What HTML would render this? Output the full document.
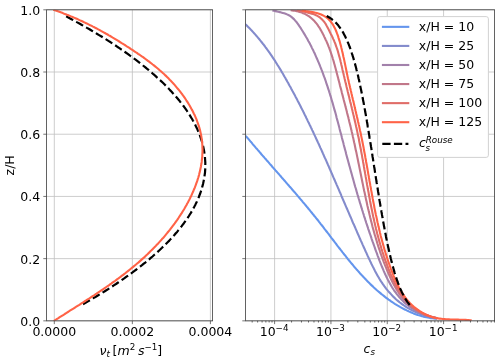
<!DOCTYPE html>
<html><head><meta charset="utf-8"><title>Profiles</title>
<style>html,body{margin:0;padding:0;background:#fff;overflow:hidden}svg{display:block}</style></head>
<body>
<svg width="500" height="362" viewBox="0 0 500 362" font-family="DejaVu Sans, Liberation Sans, sans-serif" font-size="12.5" fill="#000">
<rect width="500" height="362" fill="#fff"/>
<defs><clipPath id="cl"><rect x="46.6" y="9.8" width="166.0" height="311.05"/></clipPath><clipPath id="cr"><rect x="245.6" y="9.8" width="249.00000000000003" height="311.05"/></clipPath></defs>
<path d="M54.30 9.8 V320.85 M132.35 9.8 V320.85 M210.40 9.8 V320.85 M46.6 320.85 H212.6 M245.6 320.85 H494.6 M46.6 258.64 H212.6 M245.6 258.64 H494.6 M46.6 196.43 H212.6 M245.6 196.43 H494.6 M46.6 134.22 H212.6 M245.6 134.22 H494.6 M46.6 72.01 H212.6 M245.6 72.01 H494.6 M46.6 9.80 H212.6 M245.6 9.80 H494.6 M274.60 9.8 V320.85 M330.93 9.8 V320.85 M387.26 9.8 V320.85 M443.59 9.8 V320.85" stroke="#c0c0c0" stroke-width="0.8" fill="none"/>
<g clip-path="url(#cl)" fill="none" stroke-linejoin="round">
<path d="M83.0 304.2 L85.5 302.8 L88.0 301.3 L90.5 299.9 L92.9 298.4 L95.4 297.0 L97.8 295.5 L100.1 294.1 L102.5 292.6 L104.8 291.2 L107.1 289.8 L109.3 288.3 L111.6 286.9 L113.8 285.4 L116.0 284.0 L118.1 282.5 L120.3 281.1 L122.4 279.6 L124.5 278.2 L126.5 276.7 L128.5 275.3 L130.5 273.8 L132.5 272.4 L134.5 270.9 L136.4 269.5 L138.3 268.0 L140.1 266.6 L142.0 265.2 L143.8 263.7 L145.6 262.3 L147.3 260.8 L149.1 259.4 L150.8 257.9 L152.5 256.5 L154.1 255.0 L155.8 253.6 L157.4 252.1 L158.9 250.7 L160.5 249.2 L162.0 247.8 L163.5 246.3 L165.0 244.9 L166.4 243.5 L167.9 242.0 L169.3 240.6 L170.6 239.1 L172.0 237.7 L173.3 236.2 L174.6 234.8 L175.8 233.3 L177.1 231.9 L178.3 230.4 L179.4 229.0 L180.6 227.5 L181.7 226.1 L182.8 224.6 L183.9 223.2 L185.0 221.7 L186.0 220.3 L187.0 218.9 L188.0 217.4 L188.9 216.0 L189.8 214.5 L190.7 213.1 L191.6 211.6 L192.4 210.2 L193.2 208.7 L194.0 207.3 L194.8 205.8 L195.5 204.4 L196.2 202.9 L196.9 201.5 L197.5 200.0 L198.2 198.6 L198.8 197.2 L199.3 195.7 L199.9 194.3 L200.4 192.8 L200.9 191.4 L201.4 189.9 L201.8 188.5 L202.2 187.0 L202.6 185.6 L203.0 184.1 L203.3 182.7 L203.6 181.2 L203.9 179.8 L204.2 178.3 L204.4 176.9 L204.6 175.4 L204.8 174.0 L205.0 172.6 L205.1 171.1 L205.2 169.7 L205.3 168.2 L205.3 166.8 L205.3 165.3 L205.3 163.9 L205.3 162.4 L205.2 161.0 L205.1 159.5 L205.0 158.1 L204.9 156.6 L204.7 155.2 L204.5 153.7 L204.3 152.3 L204.1 150.9 L203.8 149.4 L203.5 148.0 L203.2 146.5 L202.8 145.1 L202.5 143.6 L202.1 142.2 L201.6 140.7 L201.2 139.3 L200.7 137.8 L200.2 136.4 L199.7 134.9 L199.1 133.5 L198.5 132.0 L197.9 130.6 L197.3 129.1 L196.6 127.7 L195.9 126.3 L195.2 124.8 L194.5 123.4 L193.7 121.9 L192.9 120.5 L192.1 119.0 L191.2 117.6 L190.3 116.1 L189.4 114.7 L188.5 113.2 L187.5 111.8 L186.6 110.3 L185.6 108.9 L184.5 107.4 L183.5 106.0 L182.4 104.6 L181.3 103.1 L180.1 101.7 L179.0 100.2 L177.8 98.8 L176.5 97.3 L175.3 95.9 L174.0 94.4 L172.7 93.0 L171.4 91.5 L170.0 90.1 L168.7 88.6 L167.3 87.2 L165.8 85.7 L164.4 84.3 L162.9 82.8 L161.4 81.4 L159.8 80.0 L158.3 78.5 L156.7 77.1 L155.1 75.6 L153.4 74.2 L151.8 72.7 L150.1 71.3 L148.4 69.8 L146.6 68.4 L144.8 66.9 L143.0 65.5 L141.2 64.0 L139.4 62.6 L137.5 61.1 L135.6 59.7 L133.6 58.3 L131.7 56.8 L129.7 55.4 L127.7 53.9 L125.7 52.5 L123.6 51.0 L121.5 49.6 L119.4 48.1 L117.2 46.7 L115.1 45.2 L112.9 43.8 L110.7 42.3 L108.4 40.9 L106.1 39.4 L103.8 38.0 L101.5 36.5 L99.1 35.1 L96.8 33.7 L94.4 32.2 L91.9 30.8 L89.5 29.3 L87.0 27.9 L84.5 26.4 L81.9 25.0 L79.4 23.5 L76.8 22.1 L74.2 20.6 L71.5 19.2 L68.8 17.7 L66.1 16.3" stroke="#000" stroke-width="2.2" stroke-dasharray="7.94 3.44" stroke-dashoffset="0"/>
<path d="M54.3 10.1 L55.7 10.6 L57.2 11.1 L58.6 11.6 L60.0 12.1 L61.4 12.6 L62.8 13.1 L64.2 13.7 L65.6 14.2 L67.0 14.8 L68.4 15.3 L69.8 15.9 L71.2 16.5 L72.6 17.0 L74.0 17.6 L75.4 18.2 L76.8 18.8 L78.1 19.4 L79.5 20.1 L80.9 20.7 L82.2 21.3 L83.6 22.0 L84.9 22.6 L86.3 23.3 L87.6 23.9 L89.0 24.6 L90.3 25.3 L91.7 25.9 L93.0 26.6 L94.4 27.3 L95.7 28.0 L97.0 28.7 L98.3 29.4 L99.7 30.1 L101.0 30.9 L102.3 31.6 L103.6 32.3 L104.9 33.0 L106.2 33.8 L107.6 34.5 L108.9 35.3 L110.2 36.0 L111.5 36.8 L112.8 37.6 L114.0 38.3 L115.3 39.1 L116.6 39.9 L117.9 40.7 L119.2 41.5 L120.5 42.3 L121.7 43.1 L123.0 43.9 L124.3 44.7 L125.6 45.5 L126.8 46.3 L128.1 47.1 L129.4 47.9 L130.6 48.8 L131.9 49.6 L133.1 50.4 L134.4 51.3 L135.6 52.1 L136.9 52.9 L138.1 53.8 L139.4 54.7 L140.6 55.5 L141.8 56.4 L143.1 57.2 L144.3 58.1 L145.5 59.0 L146.7 59.9 L147.9 60.8 L149.1 61.7 L150.3 62.6 L151.5 63.5 L152.7 64.5 L153.9 65.4 L155.1 66.4 L156.2 67.3 L157.4 68.3 L158.6 69.3 L159.7 70.3 L160.9 71.3 L162.0 72.3 L163.1 73.3 L164.3 74.3 L165.4 75.4 L166.5 76.4 L167.6 77.5 L168.7 78.6 L169.7 79.7 L170.8 80.8 L171.9 81.9 L172.9 83.1 L174.0 84.2 L175.0 85.4 L176.0 86.6 L177.0 87.8 L178.0 89.0 L179.0 90.2 L180.0 91.4 L180.9 92.6 L181.9 93.9 L182.8 95.2 L183.7 96.4 L184.6 97.7 L185.5 99.0 L186.3 100.3 L187.2 101.6 L188.0 102.9 L188.8 104.2 L189.6 105.5 L190.4 106.9 L191.1 108.2 L191.8 109.6 L192.6 110.9 L193.2 112.3 L193.9 113.7 L194.6 115.0 L195.2 116.4 L195.8 117.8 L196.4 119.2 L196.9 120.6 L197.4 122.0 L197.9 123.4 L198.4 124.8 L198.9 126.2 L199.3 127.6 L199.7 129.0 L200.1 130.4 L200.4 131.9 L200.7 133.3 L201.0 134.7 L201.3 136.1 L201.5 137.6 L201.7 139.0 L201.9 140.4 L202.1 141.8 L202.2 143.3 L202.3 144.7 L202.4 146.1 L202.4 147.6 L202.5 149.0 L202.5 150.4 L202.5 151.9 L202.4 153.3 L202.3 154.7 L202.3 156.2 L202.1 157.6 L202.0 159.0 L201.8 160.5 L201.7 161.9 L201.5 163.3 L201.2 164.7 L201.0 166.2 L200.7 167.6 L200.4 169.0 L200.1 170.5 L199.8 171.9 L199.4 173.3 L199.1 174.7 L198.7 176.1 L198.3 177.5 L197.8 179.0 L197.4 180.4 L196.9 181.8 L196.4 183.2 L195.9 184.6 L195.4 186.0 L194.9 187.4 L194.3 188.8 L193.7 190.1 L193.2 191.5 L192.5 192.9 L191.9 194.3 L191.3 195.7 L190.6 197.0 L190.0 198.4 L189.3 199.8 L188.6 201.1 L187.9 202.5 L187.1 203.8 L186.4 205.2 L185.6 206.5 L184.9 207.8 L184.1 209.2 L183.3 210.5 L182.5 211.8 L181.7 213.1 L180.8 214.4 L180.0 215.7 L179.1 217.0 L178.3 218.3 L177.4 219.6 L176.5 220.8 L175.6 222.1 L174.7 223.4 L173.8 224.6 L172.8 225.9 L171.9 227.1 L170.9 228.4 L170.0 229.6 L169.0 230.8 L168.0 232.0 L167.1 233.2 L166.1 234.4 L165.1 235.6 L164.1 236.8 L163.1 238.0 L162.0 239.1 L161.0 240.3 L160.0 241.4 L158.9 242.6 L157.9 243.7 L156.8 244.8 L155.8 245.9 L154.7 247.0 L153.7 248.1 L152.6 249.2 L151.5 250.3 L150.4 251.3 L149.4 252.4 L148.3 253.4 L147.2 254.5 L146.1 255.5 L145.0 256.6 L143.9 257.6 L142.7 258.6 L141.6 259.6 L140.5 260.6 L139.4 261.6 L138.3 262.6 L137.1 263.5 L136.0 264.5 L134.8 265.5 L133.7 266.4 L132.5 267.4 L131.4 268.3 L130.2 269.3 L129.1 270.2 L127.9 271.1 L126.7 272.0 L125.6 273.0 L124.4 273.9 L123.2 274.8 L122.0 275.7 L120.8 276.6 L119.6 277.5 L118.5 278.4 L117.3 279.2 L116.1 280.1 L114.9 281.0 L113.6 281.9 L112.4 282.7 L111.2 283.6 L110.0 284.4 L108.8 285.3 L107.6 286.1 L106.3 287.0 L105.1 287.8 L103.9 288.7 L102.7 289.5 L101.4 290.3 L100.2 291.2 L99.0 292.0 L97.7 292.8 L96.5 293.7 L95.2 294.5 L94.0 295.3 L92.7 296.1 L91.5 296.9 L90.2 297.8 L89.0 298.6 L87.7 299.4 L86.5 300.2 L85.2 301.0 L83.9 301.8 L82.7 302.6 L81.4 303.4 L80.1 304.3 L78.9 305.1 L77.6 305.9 L76.3 306.7 L75.1 307.5 L73.8 308.3 L72.5 309.1 L71.2 309.9 L69.9 310.7 L68.7 311.5 L67.4 312.3 L66.1 313.2 L64.8 314.0 L63.6 314.8 L62.3 315.6 L61.0 316.4 L59.7 317.2 L58.4 318.1 L57.1 318.9 L55.9 319.7 L54.6 320.5" stroke="#ff6347" stroke-width="2.1" stroke-linecap="square"/>
</g>
<g clip-path="url(#cr)" fill="none" stroke-linejoin="round">
<path d="M245.8 135.9 L246.8 137.1 L247.8 138.3 L248.8 139.4 L249.8 140.6 L250.8 141.8 L251.8 142.9 L252.7 144.1 L253.7 145.3 L254.7 146.4 L255.7 147.6 L256.7 148.7 L257.7 149.9 L258.7 151.0 L259.7 152.2 L260.7 153.3 L261.6 154.5 L262.6 155.6 L263.6 156.7 L264.6 157.9 L265.6 159.0 L266.6 160.2 L267.6 161.3 L268.6 162.4 L269.6 163.6 L270.6 164.7 L271.6 165.8 L272.5 167.0 L273.5 168.1 L274.5 169.2 L275.5 170.4 L276.5 171.5 L277.5 172.6 L278.5 173.7 L279.5 174.9 L280.5 176.0 L281.4 177.1 L282.4 178.3 L283.4 179.4 L284.4 180.5 L285.4 181.6 L286.4 182.8 L287.3 183.9 L288.3 185.0 L289.3 186.2 L290.3 187.3 L291.3 188.4 L292.2 189.5 L293.2 190.7 L294.2 191.8 L295.2 192.9 L296.2 194.1 L297.1 195.2 L298.1 196.4 L299.1 197.5 L300.0 198.6 L301.0 199.8 L302.0 200.9 L302.9 202.1 L303.9 203.2 L304.9 204.4 L305.8 205.5 L306.8 206.7 L307.8 207.8 L308.7 209.0 L309.7 210.2 L310.6 211.3 L311.6 212.5 L312.5 213.7 L313.5 214.8 L314.4 216.0 L315.4 217.2 L316.3 218.3 L317.3 219.5 L318.2 220.7 L319.1 221.9 L320.1 223.1 L321.0 224.3 L322.0 225.5 L322.9 226.7 L323.8 227.9 L324.7 229.1 L325.7 230.3 L326.6 231.5 L327.5 232.7 L328.5 233.9 L329.4 235.1 L330.3 236.4 L331.2 237.6 L332.2 238.8 L333.1 240.0 L334.0 241.2 L334.9 242.4 L335.9 243.6 L336.8 244.9 L337.7 246.1 L338.7 247.3 L339.6 248.5 L340.5 249.7 L341.5 250.9 L342.4 252.1 L343.4 253.3 L344.3 254.5 L345.3 255.7 L346.2 256.9 L347.2 258.1 L348.1 259.3 L349.1 260.5 L350.0 261.6 L351.0 262.8 L352.0 264.0 L353.0 265.2 L353.9 266.3 L354.9 267.5 L355.9 268.6 L356.9 269.8 L357.9 270.9 L358.9 272.0 L359.9 273.2 L360.9 274.3 L362.0 275.4 L363.0 276.5 L364.0 277.6 L365.1 278.7 L366.1 279.8 L367.2 280.9 L368.2 281.9 L369.3 283.0 L370.3 284.1 L371.4 285.1 L372.5 286.1 L373.6 287.2 L374.7 288.2 L375.8 289.2 L376.9 290.2 L378.1 291.2 L379.2 292.1 L380.4 293.1 L381.5 294.1 L382.7 295.0 L383.8 295.9 L385.0 296.9 L386.2 297.8 L387.4 298.7 L388.6 299.6 L389.9 300.4 L391.1 301.3 L392.3 302.1 L393.6 303.0 L394.8 303.8 L396.1 304.6 L397.4 305.4 L398.7 306.1 L400.0 306.9 L401.3 307.6 L402.6 308.3 L403.9 309.0 L405.3 309.7 L406.6 310.4 L408.0 311.0 L409.3 311.6 L410.7 312.2 L412.1 312.8 L413.5 313.4 L414.9 313.9 L416.3 314.4 L417.7 314.9 L419.1 315.3 L420.5 315.8 L422.0 316.2 L423.4 316.6 L424.9 316.9 L426.4 317.2 L427.8 317.5 L429.3 317.8 L430.8 318.1 L432.3 318.3 L433.8 318.5 L435.3 318.7 L436.8 318.8" stroke="#6495ed" stroke-width="2.1"/>
<path d="M239.0 18.5 L240.1 19.5 L241.3 20.5 L242.4 21.5 L243.5 22.5 L244.6 23.5 L245.7 24.6 L246.8 25.6 L247.9 26.7 L249.0 27.8 L250.0 28.8 L251.1 29.9 L252.1 31.0 L253.1 32.1 L254.1 33.2 L255.2 34.4 L256.1 35.5 L257.1 36.6 L258.1 37.8 L259.1 39.0 L260.0 40.1 L261.0 41.3 L261.9 42.5 L262.8 43.7 L263.8 44.8 L264.7 46.0 L265.6 47.3 L266.5 48.5 L267.3 49.7 L268.2 50.9 L269.1 52.1 L270.0 53.4 L270.8 54.6 L271.7 55.9 L272.5 57.1 L273.3 58.4 L274.2 59.7 L275.0 60.9 L275.8 62.2 L276.6 63.5 L277.4 64.8 L278.2 66.0 L279.0 67.3 L279.8 68.6 L280.6 69.9 L281.4 71.2 L282.1 72.5 L282.9 73.8 L283.7 75.2 L284.4 76.5 L285.2 77.8 L285.9 79.1 L286.7 80.4 L287.4 81.7 L288.2 83.1 L288.9 84.4 L289.6 85.7 L290.4 87.0 L291.1 88.4 L291.8 89.7 L292.5 91.0 L293.3 92.4 L294.0 93.7 L294.7 95.0 L295.4 96.4 L296.1 97.7 L296.8 99.0 L297.5 100.4 L298.2 101.7 L298.9 103.1 L299.6 104.4 L300.3 105.8 L300.9 107.1 L301.6 108.4 L302.3 109.8 L303.0 111.1 L303.7 112.5 L304.3 113.8 L305.0 115.2 L305.7 116.5 L306.3 117.9 L307.0 119.2 L307.6 120.6 L308.3 122.0 L309.0 123.3 L309.6 124.7 L310.3 126.0 L310.9 127.4 L311.6 128.8 L312.2 130.1 L312.9 131.5 L313.5 132.8 L314.1 134.2 L314.8 135.6 L315.4 136.9 L316.0 138.3 L316.7 139.7 L317.3 141.0 L317.9 142.4 L318.6 143.8 L319.2 145.1 L319.8 146.5 L320.4 147.9 L321.1 149.3 L321.7 150.6 L322.3 152.0 L322.9 153.4 L323.5 154.7 L324.1 156.1 L324.7 157.5 L325.4 158.9 L326.0 160.2 L326.6 161.6 L327.2 163.0 L327.8 164.4 L328.4 165.7 L329.0 167.1 L329.6 168.5 L330.2 169.9 L330.8 171.3 L331.4 172.6 L332.0 174.0 L332.6 175.4 L333.2 176.8 L333.8 178.2 L334.4 179.5 L335.0 180.9 L335.6 182.3 L336.2 183.7 L336.8 185.1 L337.4 186.4 L338.0 187.8 L338.6 189.2 L339.2 190.6 L339.8 192.0 L340.4 193.3 L341.0 194.7 L341.5 196.1 L342.1 197.5 L342.7 198.9 L343.3 200.3 L343.9 201.6 L344.5 203.0 L345.1 204.4 L345.7 205.8 L346.3 207.2 L346.9 208.5 L347.5 209.9 L348.1 211.3 L348.7 212.7 L349.3 214.1 L349.9 215.5 L350.5 216.8 L351.1 218.2 L351.7 219.6 L352.2 221.0 L352.8 222.4 L353.4 223.8 L354.1 225.1 L354.7 226.5 L355.3 227.9 L355.9 229.3 L356.5 230.7 L357.1 232.1 L357.7 233.5 L358.3 234.8 L358.9 236.2 L359.5 237.6 L360.1 239.0 L360.7 240.4 L361.4 241.8 L362.0 243.2 L362.6 244.6 L363.2 245.9 L363.8 247.3 L364.5 248.7 L365.1 250.1 L365.7 251.5 L366.4 252.9 L367.0 254.3 L367.6 255.7 L368.3 257.1 L368.9 258.5 L369.6 259.9 L370.2 261.2 L370.9 262.6 L371.5 264.0 L372.2 265.4 L372.9 266.8 L373.6 268.1 L374.3 269.5 L375.0 270.9 L375.7 272.2 L376.4 273.5 L377.1 274.9 L377.9 276.2 L378.7 277.5 L379.4 278.8 L380.2 280.1 L381.0 281.4 L381.9 282.6 L382.7 283.9 L383.6 285.1 L384.5 286.4 L385.4 287.6 L386.3 288.8 L387.2 289.9 L388.2 291.1 L389.2 292.2 L390.2 293.3 L391.2 294.4 L392.2 295.5 L393.2 296.6 L394.3 297.6 L395.4 298.7 L396.5 299.7 L397.6 300.6 L398.8 301.6 L399.9 302.5 L401.1 303.4 L402.3 304.3 L403.5 305.2 L404.7 306.0 L406.0 306.8 L407.2 307.6 L408.5 308.4 L409.8 309.1 L411.1 309.8 L412.4 310.5 L413.8 311.1 L415.1 311.8 L416.5 312.4 L417.9 312.9 L419.3 313.5 L420.7 314.0 L422.1 314.5 L423.5 314.9 L425.0 315.4 L426.4 315.8 L427.9 316.2 L429.4 316.6 L430.9 316.9 L432.4 317.2 L433.9 317.6 L435.4 317.8 L436.9 318.1" stroke="#838bcc" stroke-width="2.1"/>
<path d="M272.4 10.4 L273.8 10.8 L275.3 11.1 L276.8 11.4 L278.3 11.8 L279.8 12.1 L281.2 12.5 L282.7 12.9 L284.2 13.3 L285.6 13.8 L287.0 14.4 L288.4 15.0 L289.6 15.7 L290.9 16.5 L292.0 17.4 L293.1 18.4 L294.2 19.4 L295.2 20.6 L296.2 21.7 L297.1 22.9 L298.0 24.1 L298.9 25.4 L299.7 26.7 L300.6 27.9 L301.4 29.2 L302.2 30.5 L303.0 31.8 L303.8 33.1 L304.6 34.4 L305.4 35.7 L306.1 37.0 L306.9 38.3 L307.6 39.6 L308.3 40.9 L309.1 42.3 L309.8 43.6 L310.5 44.9 L311.2 46.3 L311.8 47.6 L312.5 49.0 L313.2 50.3 L313.8 51.7 L314.5 53.0 L315.1 54.4 L315.7 55.8 L316.3 57.2 L316.9 58.5 L317.5 59.9 L318.1 61.3 L318.7 62.7 L319.3 64.1 L319.9 65.5 L320.4 66.9 L321.0 68.3 L321.5 69.7 L322.1 71.1 L322.6 72.5 L323.1 73.9 L323.6 75.3 L324.1 76.7 L324.7 78.1 L325.2 79.6 L325.7 81.0 L326.1 82.4 L326.6 83.8 L327.1 85.3 L327.6 86.7 L328.0 88.2 L328.5 89.6 L329.0 91.0 L329.4 92.5 L329.9 93.9 L330.3 95.4 L330.8 96.8 L331.2 98.3 L331.6 99.7 L332.0 101.2 L332.5 102.6 L332.9 104.1 L333.3 105.5 L333.7 107.0 L334.1 108.4 L334.5 109.9 L335.0 111.4 L335.4 112.8 L335.8 114.3 L336.2 115.7 L336.5 117.2 L336.9 118.7 L337.3 120.1 L337.7 121.6 L338.1 123.1 L338.5 124.5 L338.9 126.0 L339.3 127.5 L339.6 128.9 L340.0 130.4 L340.4 131.9 L340.8 133.3 L341.2 134.8 L341.6 136.2 L341.9 137.7 L342.3 139.2 L342.7 140.6 L343.1 142.1 L343.5 143.6 L343.8 145.0 L344.2 146.5 L344.6 147.9 L345.0 149.4 L345.4 150.8 L345.8 152.3 L346.1 153.8 L346.5 155.2 L346.9 156.7 L347.3 158.1 L347.7 159.6 L348.1 161.0 L348.5 162.5 L348.9 163.9 L349.3 165.4 L349.7 166.8 L350.1 168.3 L350.5 169.7 L350.9 171.2 L351.3 172.6 L351.7 174.1 L352.1 175.5 L352.5 177.0 L352.9 178.4 L353.3 179.8 L353.7 181.3 L354.1 182.7 L354.5 184.2 L354.9 185.6 L355.3 187.1 L355.8 188.5 L356.2 189.9 L356.6 191.4 L357.0 192.8 L357.4 194.3 L357.9 195.7 L358.3 197.1 L358.7 198.6 L359.2 200.0 L359.6 201.5 L360.0 202.9 L360.5 204.3 L360.9 205.8 L361.3 207.2 L361.8 208.6 L362.2 210.1 L362.7 211.5 L363.1 213.0 L363.6 214.4 L364.0 215.8 L364.5 217.3 L365.0 218.7 L365.4 220.1 L365.9 221.6 L366.3 223.0 L366.8 224.4 L367.3 225.9 L367.8 227.3 L368.2 228.8 L368.7 230.2 L369.2 231.6 L369.7 233.1 L370.2 234.5 L370.7 235.9 L371.2 237.4 L371.6 238.8 L372.1 240.2 L372.6 241.7 L373.2 243.1 L373.7 244.6 L374.2 246.0 L374.7 247.4 L375.2 248.9 L375.7 250.3 L376.2 251.7 L376.8 253.2 L377.3 254.6 L377.8 256.1 L378.4 257.5 L378.9 258.9 L379.4 260.4 L380.0 261.8 L380.6 263.3 L381.1 264.7 L381.7 266.1 L382.3 267.5 L382.9 268.9 L383.5 270.4 L384.1 271.8 L384.7 273.1 L385.3 274.5 L386.0 275.9 L386.6 277.3 L387.3 278.6 L388.0 280.0 L388.7 281.3 L389.4 282.6 L390.1 283.9 L390.9 285.2 L391.6 286.5 L392.4 287.8 L393.2 289.0 L394.0 290.3 L394.9 291.5 L395.8 292.7 L396.6 293.9 L397.6 295.0 L398.5 296.2 L399.4 297.3 L400.4 298.4 L401.4 299.5 L402.5 300.5 L403.5 301.6 L404.6 302.6 L405.7 303.6 L406.8 304.5 L408.0 305.5 L409.2 306.4 L410.4 307.3 L411.7 308.1 L413.0 308.9 L414.3 309.7 L415.6 310.5 L416.9 311.2 L418.3 312.0 L419.6 312.6 L421.0 313.3 L422.4 313.9 L423.9 314.5 L425.3 315.0 L426.7 315.5 L428.2 316.0 L429.6 316.5 L431.1 316.9 L432.6 317.3 L434.1 317.6 L435.5 317.9 L437.0 318.2" stroke="#a281ab" stroke-width="2.1"/>
<path d="M290.6 10.3 L292.1 10.4 L293.6 10.6 L295.1 10.8 L296.6 11.1 L298.1 11.5 L299.5 11.9 L301.0 12.3 L302.4 12.9 L303.8 13.4 L305.2 14.1 L306.5 14.8 L307.8 15.6 L309.1 16.4 L310.3 17.3 L311.4 18.2 L312.5 19.2 L313.6 20.3 L314.6 21.3 L315.6 22.5 L316.6 23.6 L317.5 24.8 L318.3 26.1 L319.2 27.3 L320.0 28.6 L320.7 29.9 L321.5 31.2 L322.2 32.6 L322.9 33.9 L323.6 35.3 L324.2 36.6 L324.9 38.0 L325.5 39.4 L326.2 40.7 L326.8 42.1 L327.4 43.5 L328.0 44.9 L328.5 46.3 L329.1 47.7 L329.6 49.1 L330.1 50.5 L330.6 51.9 L331.1 53.3 L331.6 54.8 L332.0 56.2 L332.5 57.6 L332.9 59.1 L333.4 60.5 L333.8 61.9 L334.2 63.4 L334.6 64.8 L335.0 66.3 L335.4 67.7 L335.8 69.2 L336.2 70.6 L336.5 72.1 L336.9 73.6 L337.3 75.0 L337.7 76.5 L338.1 77.9 L338.4 79.4 L338.8 80.8 L339.2 82.3 L339.6 83.8 L339.9 85.2 L340.3 86.7 L340.7 88.1 L341.1 89.6 L341.5 91.1 L341.8 92.5 L342.2 94.0 L342.6 95.4 L343.0 96.9 L343.4 98.4 L343.7 99.8 L344.1 101.3 L344.5 102.7 L344.9 104.2 L345.3 105.7 L345.6 107.1 L346.0 108.6 L346.4 110.0 L346.8 111.5 L347.1 113.0 L347.5 114.4 L347.9 115.9 L348.3 117.3 L348.6 118.8 L349.0 120.3 L349.3 121.7 L349.7 123.2 L350.1 124.7 L350.4 126.1 L350.8 127.6 L351.1 129.1 L351.5 130.5 L351.8 132.0 L352.2 133.5 L352.5 134.9 L352.8 136.4 L353.2 137.9 L353.5 139.4 L353.8 140.8 L354.1 142.3 L354.5 143.8 L354.8 145.2 L355.1 146.7 L355.4 148.2 L355.7 149.7 L356.0 151.1 L356.4 152.6 L356.7 154.1 L357.0 155.6 L357.3 157.1 L357.6 158.5 L357.9 160.0 L358.2 161.5 L358.5 163.0 L358.8 164.4 L359.1 165.9 L359.4 167.4 L359.7 168.9 L360.0 170.4 L360.3 171.8 L360.6 173.3 L360.9 174.8 L361.2 176.3 L361.5 177.7 L361.8 179.2 L362.1 180.7 L362.4 182.2 L362.7 183.6 L363.0 185.1 L363.3 186.6 L363.6 188.1 L363.9 189.5 L364.2 191.0 L364.6 192.5 L364.9 194.0 L365.2 195.4 L365.5 196.9 L365.8 198.4 L366.1 199.9 L366.5 201.3 L366.8 202.8 L367.1 204.3 L367.4 205.7 L367.8 207.2 L368.1 208.7 L368.5 210.1 L368.8 211.6 L369.2 213.1 L369.5 214.5 L369.9 216.0 L370.2 217.5 L370.6 218.9 L370.9 220.4 L371.3 221.8 L371.7 223.3 L372.1 224.7 L372.4 226.2 L372.8 227.7 L373.2 229.1 L373.6 230.6 L374.0 232.0 L374.4 233.5 L374.8 234.9 L375.3 236.3 L375.7 237.8 L376.1 239.2 L376.6 240.7 L377.0 242.1 L377.4 243.6 L377.9 245.0 L378.3 246.4 L378.8 247.9 L379.3 249.3 L379.8 250.7 L380.2 252.1 L380.7 253.6 L381.2 255.0 L381.7 256.4 L382.3 257.8 L382.8 259.3 L383.3 260.7 L383.8 262.1 L384.4 263.5 L384.9 264.9 L385.5 266.3 L386.1 267.7 L386.6 269.1 L387.2 270.5 L387.8 271.9 L388.4 273.3 L389.0 274.7 L389.6 276.1 L390.3 277.5 L390.9 278.9 L391.6 280.2 L392.2 281.6 L392.9 282.9 L393.6 284.3 L394.4 285.6 L395.1 286.9 L395.9 288.2 L396.6 289.5 L397.4 290.8 L398.2 292.0 L399.1 293.3 L399.9 294.5 L400.8 295.7 L401.7 296.9 L402.7 298.0 L403.6 299.1 L404.6 300.3 L405.6 301.3 L406.7 302.4 L407.7 303.4 L408.8 304.4 L410.0 305.4 L411.1 306.4 L412.3 307.3 L413.5 308.2 L414.8 309.1 L416.0 309.9 L417.3 310.7 L418.6 311.4 L420.0 312.2 L421.3 312.9 L422.7 313.5 L424.1 314.2 L425.5 314.8 L426.9 315.3 L428.3 315.8 L429.7 316.3 L431.2 316.8 L432.6 317.2 L434.1 317.5 L435.6 317.9 L437.0 318.2" stroke="#c17789" stroke-width="2.1"/>
<path d="M297.0 10.3 L298.5 10.5 L300.0 10.8 L301.5 11.1 L302.9 11.4 L304.4 11.8 L305.9 12.1 L307.3 12.5 L308.8 12.9 L310.2 13.3 L311.7 13.7 L313.1 14.1 L314.6 14.6 L316.0 15.2 L317.3 15.9 L318.6 16.7 L319.9 17.5 L321.0 18.5 L322.1 19.5 L323.1 20.6 L324.1 21.7 L325.0 23.0 L325.8 24.2 L326.5 25.5 L327.3 26.9 L328.0 28.2 L328.7 29.6 L329.4 31.0 L330.0 32.3 L330.7 33.7 L331.4 35.0 L332.1 36.4 L332.7 37.7 L333.3 39.1 L334.0 40.5 L334.5 41.9 L335.1 43.2 L335.6 44.6 L336.1 46.1 L336.6 47.5 L337.1 48.9 L337.6 50.3 L338.0 51.8 L338.4 53.2 L338.8 54.7 L339.2 56.1 L339.6 57.6 L340.0 59.1 L340.4 60.5 L340.7 62.0 L341.1 63.5 L341.4 65.0 L341.8 66.4 L342.1 67.9 L342.4 69.4 L342.8 70.9 L343.1 72.3 L343.5 73.8 L343.8 75.3 L344.2 76.8 L344.5 78.2 L344.9 79.7 L345.2 81.2 L345.6 82.6 L345.9 84.1 L346.3 85.6 L346.6 87.0 L347.0 88.5 L347.4 90.0 L347.7 91.4 L348.1 92.9 L348.4 94.4 L348.8 95.8 L349.2 97.3 L349.5 98.7 L349.9 100.2 L350.2 101.7 L350.6 103.1 L351.0 104.6 L351.3 106.0 L351.7 107.5 L352.0 109.0 L352.4 110.4 L352.7 111.9 L353.1 113.4 L353.4 114.8 L353.8 116.3 L354.1 117.7 L354.5 119.2 L354.8 120.7 L355.1 122.1 L355.5 123.6 L355.8 125.1 L356.1 126.5 L356.5 128.0 L356.8 129.5 L357.1 130.9 L357.4 132.4 L357.7 133.9 L358.0 135.4 L358.4 136.8 L358.7 138.3 L359.0 139.8 L359.2 141.3 L359.5 142.7 L359.8 144.2 L360.1 145.7 L360.4 147.2 L360.7 148.7 L361.0 150.1 L361.2 151.6 L361.5 153.1 L361.8 154.6 L362.1 156.1 L362.3 157.6 L362.6 159.1 L362.9 160.5 L363.1 162.0 L363.4 163.5 L363.7 165.0 L363.9 166.5 L364.2 168.0 L364.4 169.5 L364.7 171.0 L365.0 172.5 L365.2 173.9 L365.5 175.4 L365.7 176.9 L366.0 178.4 L366.3 179.9 L366.5 181.4 L366.8 182.9 L367.0 184.4 L367.3 185.9 L367.6 187.4 L367.8 188.8 L368.1 190.3 L368.4 191.8 L368.7 193.3 L368.9 194.8 L369.2 196.3 L369.5 197.8 L369.8 199.3 L370.0 200.7 L370.3 202.2 L370.6 203.7 L370.9 205.2 L371.2 206.7 L371.5 208.2 L371.8 209.6 L372.1 211.1 L372.4 212.6 L372.7 214.1 L373.0 215.5 L373.3 217.0 L373.7 218.5 L374.0 220.0 L374.3 221.4 L374.7 222.9 L375.0 224.4 L375.3 225.8 L375.7 227.3 L376.0 228.8 L376.4 230.2 L376.8 231.7 L377.1 233.2 L377.5 234.6 L377.9 236.1 L378.3 237.5 L378.7 239.0 L379.1 240.4 L379.5 241.9 L379.9 243.3 L380.3 244.8 L380.8 246.2 L381.2 247.7 L381.6 249.1 L382.1 250.6 L382.5 252.0 L383.0 253.4 L383.5 254.9 L383.9 256.3 L384.4 257.7 L384.9 259.1 L385.4 260.6 L385.9 262.0 L386.5 263.4 L387.0 264.8 L387.5 266.2 L388.1 267.6 L388.6 269.1 L389.2 270.5 L389.8 271.9 L390.3 273.3 L390.9 274.7 L391.5 276.0 L392.2 277.4 L392.8 278.8 L393.4 280.2 L394.1 281.5 L394.8 282.9 L395.5 284.2 L396.2 285.6 L396.9 286.9 L397.6 288.2 L398.4 289.5 L399.2 290.8 L400.0 292.0 L400.8 293.3 L401.7 294.5 L402.6 295.7 L403.4 296.9 L404.4 298.1 L405.3 299.2 L406.3 300.3 L407.3 301.4 L408.3 302.5 L409.4 303.6 L410.5 304.6 L411.6 305.6 L412.7 306.6 L413.9 307.6 L415.1 308.5 L416.3 309.4 L417.6 310.2 L418.8 311.1 L420.1 311.8 L421.5 312.6 L422.8 313.3 L424.1 314.0 L425.5 314.6 L426.9 315.2 L428.3 315.8 L429.7 316.3 L431.1 316.8 L432.6 317.2 L434.0 317.6 L435.5 318.0 L436.9 318.3" stroke="#e06d68" stroke-width="2.1"/>
<path d="M301.9 10.4 L303.3 10.7 L304.7 10.9 L306.2 11.2 L307.7 11.4 L309.2 11.6 L310.7 11.8 L312.3 12.1 L313.8 12.4 L315.3 12.7 L316.8 13.1 L318.3 13.5 L319.7 14.0 L321.2 14.5 L322.6 15.2 L323.9 15.9 L325.2 16.6 L326.4 17.4 L327.5 18.3 L328.6 19.3 L329.7 20.4 L330.6 21.5 L331.5 22.6 L332.4 23.8 L333.2 25.1 L333.9 26.4 L334.6 27.7 L335.3 29.1 L335.9 30.5 L336.5 32.0 L337.0 33.4 L337.6 34.9 L338.1 36.3 L338.5 37.8 L339.0 39.3 L339.4 40.7 L339.9 42.2 L340.3 43.7 L340.7 45.1 L341.1 46.6 L341.4 48.0 L341.8 49.5 L342.1 50.9 L342.5 52.4 L342.8 53.8 L343.1 55.3 L343.4 56.7 L343.8 58.2 L344.1 59.6 L344.4 61.1 L344.7 62.5 L345.0 64.0 L345.3 65.4 L345.6 66.9 L345.9 68.3 L346.2 69.8 L346.5 71.2 L346.8 72.7 L347.1 74.2 L347.4 75.6 L347.7 77.1 L348.0 78.5 L348.4 80.0 L348.7 81.5 L349.0 82.9 L349.4 84.4 L349.7 85.9 L350.0 87.3 L350.4 88.8 L350.7 90.3 L351.1 91.8 L351.4 93.2 L351.8 94.7 L352.1 96.2 L352.5 97.7 L352.8 99.2 L353.2 100.6 L353.5 102.1 L353.9 103.6 L354.2 105.1 L354.6 106.6 L354.9 108.1 L355.3 109.5 L355.6 111.0 L356.0 112.5 L356.3 114.0 L356.7 115.5 L357.0 117.0 L357.4 118.5 L357.7 120.0 L358.0 121.5 L358.4 122.9 L358.7 124.4 L359.1 125.9 L359.4 127.4 L359.7 128.9 L360.0 130.4 L360.4 131.9 L360.7 133.4 L361.0 134.9 L361.3 136.4 L361.6 137.9 L361.9 139.3 L362.2 140.8 L362.5 142.3 L362.8 143.8 L363.1 145.3 L363.4 146.8 L363.7 148.3 L363.9 149.8 L364.2 151.3 L364.5 152.8 L364.8 154.2 L365.1 155.7 L365.3 157.2 L365.6 158.7 L365.9 160.2 L366.1 161.7 L366.4 163.2 L366.7 164.7 L366.9 166.1 L367.2 167.6 L367.5 169.1 L367.7 170.6 L368.0 172.1 L368.2 173.6 L368.5 175.1 L368.8 176.5 L369.0 178.0 L369.3 179.5 L369.5 181.0 L369.8 182.5 L370.1 184.0 L370.3 185.4 L370.6 186.9 L370.9 188.4 L371.1 189.9 L371.4 191.4 L371.7 192.8 L371.9 194.3 L372.2 195.8 L372.5 197.3 L372.7 198.7 L373.0 200.2 L373.3 201.7 L373.6 203.2 L373.9 204.6 L374.2 206.1 L374.4 207.6 L374.7 209.1 L375.0 210.5 L375.3 212.0 L375.6 213.5 L375.9 214.9 L376.3 216.4 L376.6 217.9 L376.9 219.3 L377.2 220.8 L377.5 222.3 L377.9 223.7 L378.2 225.2 L378.5 226.6 L378.9 228.1 L379.2 229.6 L379.6 231.0 L379.9 232.5 L380.3 233.9 L380.6 235.4 L381.0 236.9 L381.4 238.3 L381.8 239.8 L382.2 241.2 L382.6 242.7 L383.0 244.1 L383.4 245.6 L383.8 247.0 L384.2 248.5 L384.6 249.9 L385.1 251.4 L385.5 252.8 L386.0 254.3 L386.4 255.7 L386.9 257.1 L387.3 258.6 L387.8 260.0 L388.3 261.5 L388.8 262.9 L389.3 264.3 L389.8 265.8 L390.3 267.2 L390.8 268.6 L391.4 270.1 L391.9 271.5 L392.5 272.9 L393.0 274.3 L393.6 275.8 L394.2 277.2 L394.8 278.6 L395.4 280.0 L396.0 281.4 L396.7 282.8 L397.3 284.1 L398.0 285.5 L398.7 286.9 L399.4 288.2 L400.1 289.5 L400.9 290.8 L401.7 292.1 L402.5 293.4 L403.3 294.7 L404.1 295.9 L405.0 297.1 L405.9 298.3 L406.8 299.5 L407.8 300.6 L408.8 301.8 L409.8 302.9 L410.8 303.9 L411.9 305.0 L413.0 306.0 L414.1 307.0 L415.3 307.9 L416.5 308.8 L417.7 309.7 L419.0 310.6 L420.2 311.4 L421.5 312.2 L422.8 312.9 L424.2 313.6 L425.5 314.3 L426.9 314.9 L428.3 315.5 L429.7 316.1 L431.1 316.6 L432.5 317.0 L434.0 317.4 L435.4 317.8 L436.9 318.1 L438.4 318.4 L439.9 318.6 L441.4 318.8 L442.9 319.0 L444.4 319.1 L445.9 319.3 L447.4 319.3 L448.9 319.4 L450.5 319.5 L452.0 319.5 L453.5 319.5 L455.1 319.6 L456.6 319.6 L458.1 319.6 L459.6 319.7 L461.1 319.7 L462.7 319.7 L464.2 319.8 L465.7 319.9 L467.2 320.0 L468.6 320.1 L470.1 320.2 L471.6 320.4" stroke="#ff6347" stroke-width="2.1"/>
<path d="M409.7 305.0 L408.6 303.5 L407.5 302.1 L406.5 300.6 L405.6 299.2 L404.7 297.7 L403.9 296.3 L403.2 294.8 L402.4 293.3 L401.7 291.9 L401.1 290.4 L400.4 289.0 L399.8 287.5 L399.2 286.1 L398.7 284.6 L398.1 283.2 L397.6 281.7 L397.1 280.3 L396.6 278.8 L396.1 277.4 L395.6 275.9 L395.2 274.5 L394.7 273.0 L394.3 271.6 L393.9 270.1 L393.5 268.7 L393.1 267.2 L392.7 265.8 L392.3 264.3 L391.9 262.9 L391.5 261.4 L391.2 260.0 L390.8 258.5 L390.5 257.0 L390.1 255.6 L389.8 254.1 L389.4 252.7 L389.1 251.2 L388.8 249.8 L388.5 248.3 L388.1 246.9 L387.8 245.4 L387.5 244.0 L387.2 242.5 L386.9 241.1 L386.6 239.6 L386.3 238.2 L386.0 236.7 L385.8 235.3 L385.5 233.8 L385.2 232.4 L384.9 230.9 L384.6 229.5 L384.4 228.0 L384.1 226.6 L383.8 225.1 L383.6 223.7 L383.3 222.2 L383.0 220.7 L382.8 219.3 L382.5 217.8 L382.3 216.4 L382.0 214.9 L381.8 213.5 L381.5 212.0 L381.3 210.6 L381.0 209.1 L380.8 207.7 L380.5 206.2 L380.3 204.8 L380.0 203.3 L379.8 201.9 L379.5 200.4 L379.3 199.0 L379.1 197.5 L378.8 196.1 L378.6 194.6 L378.4 193.2 L378.1 191.7 L377.9 190.3 L377.7 188.8 L377.4 187.4 L377.2 185.9 L377.0 184.4 L376.7 183.0 L376.5 181.5 L376.3 180.1 L376.0 178.6 L375.8 177.2 L375.6 175.7 L375.4 174.3 L375.1 172.8 L374.9 171.4 L374.7 169.9 L374.5 168.5 L374.2 167.0 L374.0 165.6 L373.8 164.1 L373.5 162.7 L373.3 161.2 L373.1 159.8 L372.9 158.3 L372.6 156.9 L372.4 155.4 L372.2 154.0 L372.0 152.5 L371.7 151.1 L371.5 149.6 L371.3 148.1 L371.0 146.7 L370.8 145.2 L370.6 143.8 L370.3 142.3 L370.1 140.9 L369.9 139.4 L369.6 138.0 L369.4 136.5 L369.2 135.1 L368.9 133.6 L368.7 132.2 L368.5 130.7 L368.2 129.3 L368.0 127.8 L367.7 126.4 L367.5 124.9 L367.3 123.5 L367.0 122.0 L366.8 120.6 L366.5 119.1 L366.3 117.7 L366.0 116.2 L365.8 114.8 L365.5 113.3 L365.2 111.8 L365.0 110.4 L364.7 108.9 L364.5 107.5 L364.2 106.0 L363.9 104.6 L363.7 103.1 L363.4 101.7 L363.1 100.2 L362.8 98.8 L362.6 97.3 L362.3 95.9 L362.0 94.4 L361.7 93.0 L361.4 91.5 L361.1 90.1 L360.8 88.6 L360.5 87.2 L360.2 85.7 L359.9 84.3 L359.6 82.8 L359.3 81.4 L359.0 79.9 L358.6 78.5 L358.3 77.0 L358.0 75.5 L357.6 74.1 L357.3 72.6 L356.9 71.2 L356.5 69.7 L356.2 68.3 L355.8 66.8 L355.4 65.4 L355.0 63.9 L354.6 62.5 L354.2 61.0 L353.8 59.6 L353.4 58.1 L352.9 56.7 L352.5 55.2 L352.0 53.8 L351.6 52.3 L351.1 50.9 L350.6 49.4 L350.1 48.0 L349.5 46.5 L349.0 45.1 L348.4 43.6 L347.8 42.2 L347.2 40.7 L346.5 39.2 L345.8 37.8 L345.1 36.3 L344.4 34.9 L343.6 33.4 L342.8 32.0 L341.9 30.5 L340.9 29.1 L339.9 27.6 L338.8 26.2 L337.7 24.7 L336.4 23.3 L334.9 21.8 L333.3 20.4 L331.4 18.9 L329.3 17.5 L326.7 16.0" stroke="#000" stroke-width="2.2" stroke-dasharray="8.03 3.45" stroke-dashoffset="0"/>
</g>
<rect x="46.6" y="9.8" width="166.0" height="311.05" stroke="#3c3c3c" stroke-width="0.8" fill="none"/>
<rect x="245.6" y="9.8" width="249.00000000000003" height="311.05" stroke="#3c3c3c" stroke-width="0.8" fill="none"/>
<path d="M54.30 320.85 v3.3 M132.35 320.85 v3.3 M210.40 320.85 v3.3 M46.6 320.85 h-3.3 M245.6 320.85 h-3.3 M46.6 258.64 h-3.3 M245.6 258.64 h-3.3 M46.6 196.43 h-3.3 M245.6 196.43 h-3.3 M46.6 134.22 h-3.3 M245.6 134.22 h-3.3 M46.6 72.01 h-3.3 M245.6 72.01 h-3.3 M46.6 9.80 h-3.3 M245.6 9.80 h-3.3 M274.60 320.85 v3.3 M330.93 320.85 v3.3 M387.26 320.85 v3.3 M443.59 320.85 v3.3" stroke="#3c3c3c" stroke-width="0.7" fill="none"/>
<path d="M252.18 320.85 v1.7 M257.64 320.85 v1.7 M262.10 320.85 v1.7 M265.87 320.85 v1.7 M269.14 320.85 v1.7 M272.02 320.85 v1.7 M291.56 320.85 v1.7 M301.48 320.85 v1.7 M308.51 320.85 v1.7 M313.97 320.85 v1.7 M318.43 320.85 v1.7 M322.20 320.85 v1.7 M325.47 320.85 v1.7 M328.35 320.85 v1.7 M347.89 320.85 v1.7 M357.81 320.85 v1.7 M364.84 320.85 v1.7 M370.30 320.85 v1.7 M374.76 320.85 v1.7 M378.53 320.85 v1.7 M381.80 320.85 v1.7 M384.68 320.85 v1.7 M404.22 320.85 v1.7 M414.14 320.85 v1.7 M421.17 320.85 v1.7 M426.63 320.85 v1.7 M431.09 320.85 v1.7 M434.86 320.85 v1.7 M438.13 320.85 v1.7 M441.01 320.85 v1.7 M460.55 320.85 v1.7 M470.47 320.85 v1.7 M477.50 320.85 v1.7 M482.96 320.85 v1.7 M487.42 320.85 v1.7 M491.19 320.85 v1.7 M494.46 320.85 v1.7" stroke="#141414" stroke-width="0.6" fill="none"/>
<text x="54.30" y="336.15" text-anchor="middle">0.0000</text>
<text x="132.35" y="336.15" text-anchor="middle">0.0002</text>
<text x="210.40" y="336.15" text-anchor="middle">0.0004</text>
<text x="40.2" y="325.85" text-anchor="end">0.0</text>
<text x="40.2" y="263.64" text-anchor="end">0.2</text>
<text x="40.2" y="201.43" text-anchor="end">0.4</text>
<text x="40.2" y="139.22" text-anchor="end">0.6</text>
<text x="40.2" y="77.01" text-anchor="end">0.8</text>
<text x="40.2" y="14.80" text-anchor="end">1.0</text>
<text x="259.70" y="335.95">10<tspan font-size="8.75" dy="-4.9">−4</tspan></text>
<text x="316.03" y="335.95">10<tspan font-size="8.75" dy="-4.9">−3</tspan></text>
<text x="372.36" y="335.95">10<tspan font-size="8.75" dy="-4.9">−2</tspan></text>
<text x="428.69" y="335.95">10<tspan font-size="8.75" dy="-4.9">−1</tspan></text>
<text transform="translate(14.4 165.33) rotate(-90)" text-anchor="middle">z/H</text>
<text x="99.6" y="354.8"><tspan font-style="italic">ν</tspan><tspan font-style="italic" font-size="8.75" dy="2">t</tspan><tspan dy="-2" dx="2.6">[</tspan><tspan font-style="italic">m</tspan><tspan font-size="8.75" dy="-4.6">2</tspan><tspan dy="4.6" dx="2.6" font-style="italic">s</tspan><tspan font-size="8.75" dy="-4.6">−1</tspan><tspan dy="4.6">]</tspan></text>
<text x="363.6" y="352.6"><tspan font-style="italic">c</tspan><tspan font-style="italic" font-size="8.75" dy="2.2">s</tspan></text>
<rect x="377.6" y="16.6" width="110.8" height="140.8" rx="2.2" fill="#fff" stroke="#d2d2d2" stroke-width="1"/>
<path d="M381.9 26.85 H409.3" stroke="#6495ed" stroke-width="2.1" fill="none"/>
<text x="418.8" y="30.85">x/H = 10</text>
<path d="M381.9 45.92 H409.3" stroke="#838bcc" stroke-width="2.1" fill="none"/>
<text x="418.8" y="49.92">x/H = 25</text>
<path d="M381.9 64.99 H409.3" stroke="#a281ab" stroke-width="2.1" fill="none"/>
<text x="418.8" y="68.99">x/H = 50</text>
<path d="M381.9 84.06 H409.3" stroke="#c17789" stroke-width="2.1" fill="none"/>
<text x="418.8" y="88.06">x/H = 75</text>
<path d="M381.9 103.13 H409.3" stroke="#e06d68" stroke-width="2.1" fill="none"/>
<text x="418.8" y="107.13">x/H = 100</text>
<path d="M381.9 122.20 H409.3" stroke="#ff6347" stroke-width="2.1" fill="none"/>
<text x="418.8" y="126.20">x/H = 125</text>
<path d="M382.3 143.8 H408.4" stroke="#000" stroke-width="2.2" stroke-dasharray="8.3 3.3" fill="none"/>
<text x="418.9" y="147.3"><tspan font-style="italic">c</tspan><tspan font-style="italic" font-size="8.75" dx="-0.2" dy="3.9">s</tspan><tspan font-style="italic" font-size="8.75" dy="-8.4" dx="-4.36">Rouse</tspan></text>
</svg>
</body></html>
